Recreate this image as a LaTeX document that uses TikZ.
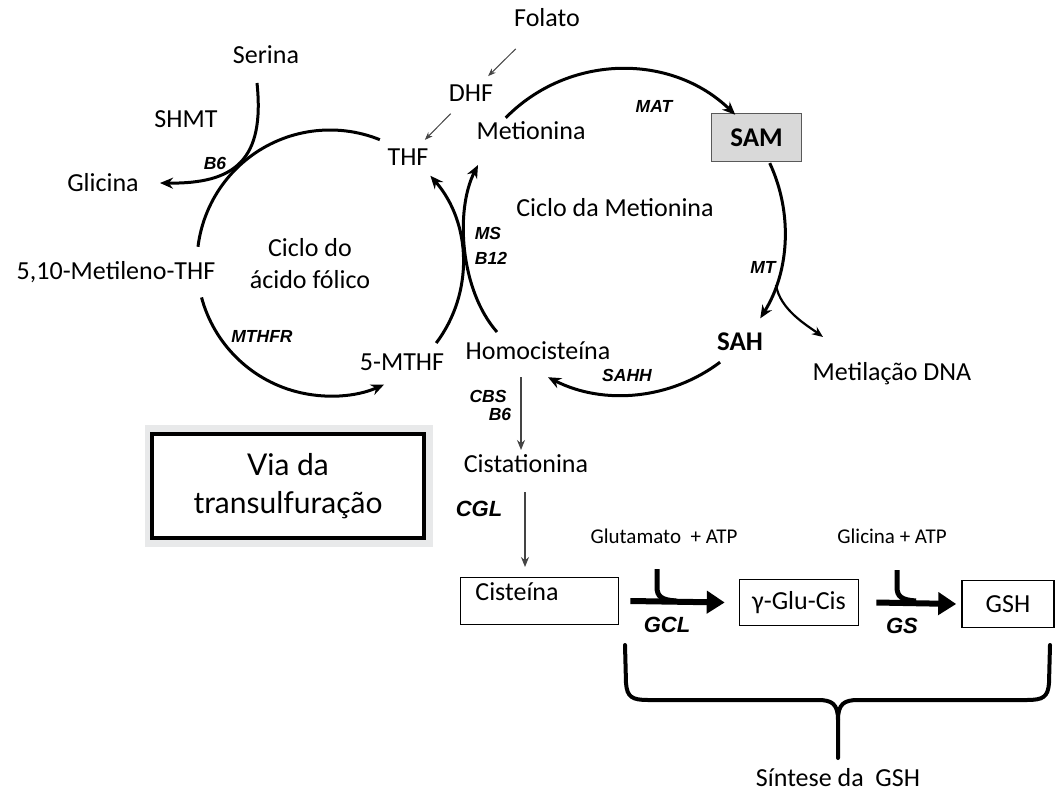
\documentclass[tikz,border=0pt]{standalone}
\usepackage{fontspec}
\setmainfont{Carlito}
\setsansfont{Liberation Sans}
\newfontfamily\viafont{Lato}
\usetikzlibrary{arrows.meta}
\definecolor{sambg}{HTML}{D9D9D9}
\definecolor{samfr}{HTML}{595959}
\definecolor{viabg}{HTML}{E8E9EA}
\definecolor{thinc}{HTML}{444444}
\begin{document}
\begin{tikzpicture}[x=1pt,y=-1pt,
  txt/.style={font=\fontsize{26}{32}\selectfont, inner sep=0pt},
  txtb/.style={font=\bfseries\fontsize{27}{32}\selectfont, inner sep=0pt},
  small/.style={font=\fontsize{21}{24}\selectfont, inner sep=0pt},
  enz/.style={font=\sffamily\bfseries\itshape\fontsize{17.5}{20}\selectfont, inner sep=0pt},
  enzbig/.style={font=\sffamily\bfseries\itshape\fontsize{22}{24}\selectfont, inner sep=0pt},
  cyc/.style={line width=3pt, -{Stealth[length=13pt,width=11pt]}},
  cycplain/.style={line width=3pt},
  thinarr/.style={draw=thinc, line width=1pt, -{Stealth[length=8pt,width=6pt]}},
  transarr/.style={draw=thinc, line width=1.4pt, -{Stealth[length=10pt,width=8pt]}},
  bigarr/.style={line width=6pt, -{Triangle[length=18pt,width=22pt]}},
  hook/.style={line width=5pt},
  brace/.style={line width=4pt, line join=round, line cap=round},
  box/.style={draw, line width=1.6pt, inner sep=0pt},
]
\path[use as bounding box] (0,0) rectangle (1055,794);

% ---------- folate cycle texts
\node[txt] (folato) at (547,18) {Folato};
\node[txt] (dhf) at (471,93) {DHF};
\node[txt] (thf) at (408,157) {THF};
\node[txt] (serina) at (266,55) {Serina};
\node[txt] (shmt) at (186,119) {SHMT};
\node[enz] (b6a) at (215,163) {B6};
\node[txt] (glicina) at (103,183) {Glicina};
\node[txt] (metileno) at (116,272) {5,10-Metileno-THF};
\node[txt, align=center] (cicfol) at (310,264) {Ciclo do\\ácido fólico};
\node[enz] (mthfr) at (262,336) {MTHFR};
\node[txt] (mthf) at (402,362) {5-MTHF};

% ---------- methionine cycle texts
\node[txt] (met) at (531,131) {Metionina};
\node[enz] (mat) at (654,106) {MAT};
\node[box, draw=samfr, fill=sambg, minimum width=90pt, minimum height=48pt, font=\bfseries\fontsize{27}{32}\selectfont] (sam) at (756.5,137.5) {SAM};
\node[txt] (cicmet) at (615,208) {Ciclo da Metionina};
\node[enz] (ms) at (488,233) {MS};
\node[enz] (b12) at (491,258) {B12};
\node[enz] (mt) at (763,267) {MT};
\node[txtb] (sah) at (740,342) {SAH};
\node[txt] (dna) at (892,374) {Metilação DNA};
\node[txt] (homo) at (538,351) {Homocisteína};
\node[enz] (sahh) at (627,375) {SAHH};

% ---------- transsulfuration
\node[enz] (cbs) at (488,396) {CBS};
\node[enz] (b6b) at (500,414) {B6};
\node[txt] (cist) at (526,464) {Cistationina};
\node[enzbig] (cgl) at (479,509) {CGL};
\fill[viabg] (145,425) rectangle (433,547);
\node[draw, fill=white, line width=3.5pt, minimum width=272pt, minimum height=104pt, align=center,
      font=\viafont\fontsize{30}{38}\selectfont] (via) at (288,486) {Via da\\transulfuração};

% ---------- GSH synthesis
\node[small] (glut) at (664,536) {Glutamato \ + ATP};
\node[small] (glyatp) at (892,536) {Glicina + ATP};
\node[box, minimum width=158pt, minimum height=47pt] (cis) at (539.5,601) {};
\node[txt] (cistxt) at (517,592) {Cisteína};
\node[box, minimum width=119pt, minimum height=46pt, font=\fontsize{26}{32}\selectfont] (glu) at (799,602.5) {γ-Glu-Cis};
\node[box, minimum width=92pt, minimum height=47pt, font=\fontsize{26}{32}\selectfont] (gsh) at (1008,604) {GSH};
\node[enzbig] (gcl) at (667,625) {GCL};
\node[enzbig] (gs) at (902,626) {GS};
\node[txt] (sint) at (838,778) {Síntese da \ GSH};

% ---------- thin arrows
\draw[thinarr, shorten <=44pt, shorten >=24pt] (folato.center) -- (dhf.center);
\draw[thinarr, shorten <=29pt, shorten >=24pt] (dhf.center) -- (thf.center);

% ---------- folate cycle arcs
\coordinate (F) at (330,263);
\draw[cycplain] (F) ++(-68:133) arc[start angle=-68, end angle=-173, radius=133];
\draw[cyc] (F) ++(165:133) arc[start angle=165, end angle=66, radius=133];
\draw[cyc] (F) ++(37:133) arc[start angle=37, end angle=-41, radius=133];

% serine -> glycine
\coordinate (ser1) at (257,83);
\coordinate (gly1) at (160,183);
\draw[cyc] (ser1) .. controls (265,160) and (235,184) .. (gly1);

% ---------- methionine cycle arcs
\coordinate (M) at (622,232);
\draw[cyc] (M) ++(-135.5:163) arc[start angle=-135.5, end angle=-46, radius=163];
\draw[cyc] (M) ++(-25:163) arc[start angle=-25, end angle=32, radius=163];
\draw[cyc] (M) ++(53:163) arc[start angle=53, end angle=117, radius=163];
% branch to DNA methylation
\coordinate (br) at (776,285);
\coordinate (dnatip) at (823,337);
\draw[line width=2.2pt, -{Stealth[length=11pt,width=9pt]}] (br) .. controls (780,310) and (808,326) .. (dnatip);
% MS / B12 arc: homocysteine -> methionine
\coordinate (ms1) at (497,332);
\coordinate (ms2) at (478,165);
\draw[cyc] (ms1) .. controls (460,290) and (455,210) .. (ms2);

% ---------- transsulfuration arrows
\coordinate (cbs1) at (521,377);
\coordinate (cbs2) at (521,450);
\draw[transarr] (cbs1) -- (cbs2);
\coordinate (cgl1) at (525,492);
\coordinate (cgl2) at (525,567);
\draw[transarr] (cgl1) -- (cgl2);

% ---------- GSH synthesis arrows
\draw[bigarr] ([xshift=11pt]cis.east) -- ([xshift=-14pt]glu.west);
\draw[bigarr] ([xshift=17pt]glu.east) -- ([xshift=-5pt]gsh.west);
\coordinate (h1) at (657,569);
\draw[hook] (h1) -- (657,587) .. controls (657,597) and (662,600) .. (676,601);
\coordinate (h2) at (897,570);
\draw[hook] (h2) -- (897,587) .. controls (897,597) and (902,600) .. (916,601);

% ---------- brace
\coordinate (brL) at (625,645);
\coordinate (brR) at (1050,645);
\coordinate (brM) at (838,758);
\draw[brace] (brL) -- (626,683) .. controls (627,697) and (632,700) .. (648,700) -- (818,700)
   .. controls (832,700) and (838,704) .. (838,720) -- (brM);
\draw[brace] (brR) -- (1049,683) .. controls (1048,697) and (1043,700) .. (1027,700) -- (858,700)
   .. controls (844,700) and (838,704) .. (838,720);
\end{tikzpicture}
\end{document}
